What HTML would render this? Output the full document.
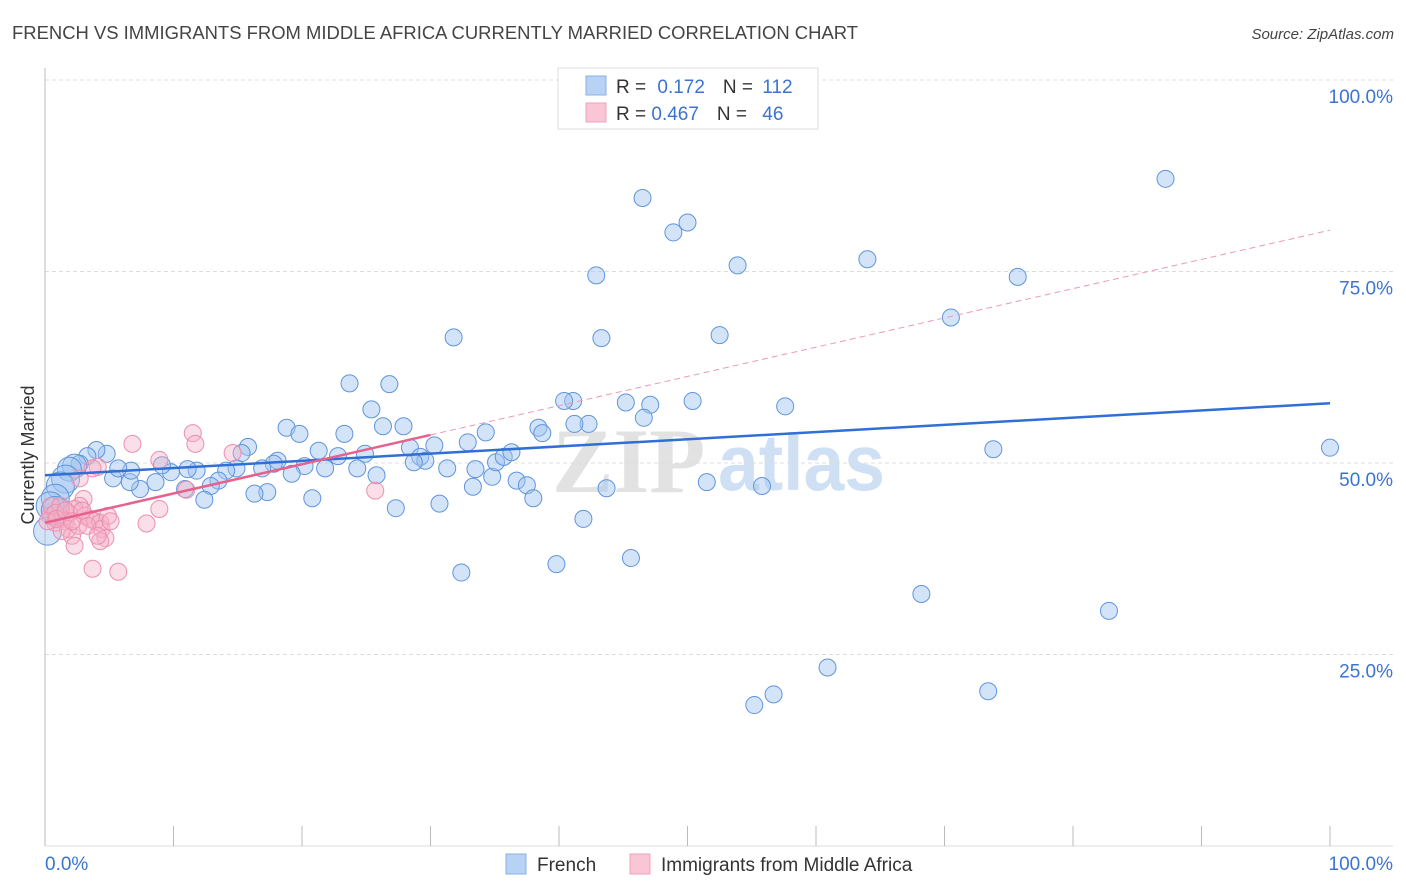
<!DOCTYPE html>
<html><head><meta charset="utf-8"><style>
body{margin:0;background:#fff;font-family:"Liberation Sans",sans-serif;}
#wrap{position:relative;width:1406px;height:892px;overflow:hidden;}
</style></head><body>
<div id="wrap">
<svg id="chart" width="1406" height="892" xmlns="http://www.w3.org/2000/svg">
<text x="12" y="39" font-size="18" fill="#444" textLength="846" lengthAdjust="spacingAndGlyphs">FRENCH VS IMMIGRANTS FROM MIDDLE AFRICA CURRENTLY MARRIED CORRELATION CHART</text>
<text x="1394" y="39" font-size="15" fill="#444" font-style="italic" text-anchor="end">Source: ZipAtlas.com</text>
<text transform="translate(34,455) rotate(-90)" font-size="18" fill="#333" text-anchor="middle">Currently Married</text>
<g><text x="552" y="492" font-size="92" fill="#e2e2e2" font-family="Liberation Serif,serif" font-weight="bold">ZIP</text><text x="718" y="490" font-size="80" fill="#cfe0f4" font-weight="bold" textLength="167" lengthAdjust="spacingAndGlyphs">atlas</text></g>
<g id="grid"></g><g id="axes"></g><g id="pts"></g><g id="lines"></g>
<g>
<rect x="558" y="68" width="260" height="61" fill="#fff" stroke="#ddd"/>
<rect x="586" y="76" width="20" height="19" fill="#b7d2f4" stroke="#8ab0e0"/>
<rect x="586" y="103" width="20" height="19" fill="#f9c6d6" stroke="#f0a0bb"/>
<text x="616" y="93" font-size="19" fill="#333">R = <tspan fill="#3b74d0" dx="6">0.172</tspan><tspan dx="18" fill="#333">N = </tspan><tspan fill="#3b74d0" dx="4">112</tspan></text>
<text x="616" y="120" font-size="19" fill="#333">R = <tspan fill="#3b74d0">0.467</tspan><tspan dx="18" fill="#333">N = </tspan><tspan fill="#3b74d0" dx="10">46</tspan></text>
</g>
<g>
<rect x="506" y="854" width="20" height="20" fill="#b7d2f4" stroke="#8ab0e0"/>
<text x="537" y="871" font-size="19" fill="#333">French</text>
<rect x="630" y="854" width="20" height="20" fill="#f9c6d6" stroke="#f0a0bb"/>
<text x="661" y="871" font-size="19" fill="#333">Immigrants from Middle Africa</text>
</g>
</svg>
</div>
<script>
const yTicks=[25,50,75,100];
const yTickLabels=["25.0%","50.0%","75.0%","100.0%"];
const xTickLabels=["0.0%","100.0%"];
const frenchX=[100,87.2,46.5,50.0,48.9,42.9,53.9,64.0,75.7,70.5,31.8,43.3,52.5,23.7,26.8,25.4,27.9,26.3,18.8,19.8,23.3,41.1,40.4,45.2,47.1,50.4,57.6,46.6,42.3,41.2,38.4,38.7,34.3,32.9,30.3,28.4,29.2,29.6,28.7,31.3,33.5,34.8,35.1,35.7,36.3,33.3,36.7,37.5,38.0,43.7,51.5,55.8,73.8,41.9,30.7,27.3,20.8,24.9,24.3,25.8,21.8,21.3,22.8,20.2,19.2,18.1,17.8,16.9,15.8,15.3,17.3,16.3,14.9,14.1,13.5,12.9,12.4,10.9,11.8,11.1,9.8,9.1,8.6,7.4,6.6,6.7,5.3,5.7,4.8,4.0,3.3,2.7,2.3,1.9,1.6,1.2,0.8,0.4,0.2,0.8,32.4,39.8,45.6,68.2,82.8,60.9,56.7,55.2,73.4];
const frenchY=[52.0,87.1,84.6,81.4,80.1,74.5,75.8,76.6,74.3,69.0,66.4,66.3,66.7,60.4,60.3,57.0,54.8,54.8,54.6,53.8,53.8,58.1,58.1,57.9,57.6,58.1,57.4,55.9,55.1,55.1,54.6,53.9,54.0,52.7,52.3,52.0,50.8,50.3,50.1,49.3,49.2,48.2,50.1,50.8,51.4,46.9,47.7,47.1,45.4,46.7,47.5,47.0,51.8,42.7,44.7,44.1,45.4,51.2,49.3,48.4,49.3,51.6,50.9,49.6,48.6,50.3,49.9,49.3,52.1,51.3,46.2,46.0,49.3,49.0,47.7,47.0,45.2,46.6,49.0,49.2,48.8,49.7,47.5,46.6,47.5,49.0,48.0,49.3,51.2,51.7,50.9,49.9,49.6,49.2,47.9,47.0,45.4,44.4,41.1,43.8,35.7,36.8,37.6,32.9,30.7,23.3,19.8,18.4,20.2];
const immX=[6.8,11.5,11.7,8.9,14.6,25.7,11.0,8.9,7.9,4.1,3.7,2.7,3.0,2.7,2.3,1.9,1.3,0.8,0.4,0.5,1.2,1.6,1.8,2.1,2.6,3.1,3.5,3.9,4.3,4.4,4.7,4.3,4.9,2.3,3.7,5.7,0.8,1.3,0.2,3.3,0.9,1.6,2.1,2.9,4.1,5.1];
const immY=[52.5,53.9,52.5,50.4,51.3,46.4,46.5,44.0,42.1,49.5,49.3,48.0,45.3,44.4,44.0,43.4,42.7,42.2,43.1,44.4,44.4,42.4,41.4,40.5,41.8,43.1,42.7,42.4,42.2,41.4,40.2,39.8,43.1,39.2,36.2,35.8,43.5,41.1,42.4,41.8,42.7,43.8,42.4,43.8,40.5,42.4];
const frenchTrend=[48.4,57.8];
const immTrend=[42.2,80.4];
const immSolidEnd=30;

const NS="http://www.w3.org/2000/svg";
const X0=45,X1=1330,Y0=846,Y100=80;
const sx=v=>X0+(X1-X0)*v/100;
const sy=v=>Y0-(Y0-Y100)*v/100;
function mk(tag,attrs,parent){const e=document.createElementNS(NS,tag);for(const k in attrs)e.setAttribute(k,attrs[k]);parent.appendChild(e);return e;}
const grid=document.getElementById('grid'),axes=document.getElementById('axes'),pts=document.getElementById('pts'),lines=document.getElementById('lines');
yTicks.forEach((t,i)=>{
 const g=mk('line',{x1:X0,x2:1393,y1:sy(t),y2:sy(t),stroke:'#ddd','stroke-dasharray':'4,3'},grid);
 
 
 const tx=mk('text',{x:1393,y:sy(t)+23,'font-size':19,fill:'#3b74d0','text-anchor':'end'},axes);
 tx.textContent=yTickLabels[i];
 
 
});
const la=mk('line',{x1:X0,x2:X0,y1:68,y2:Y0,stroke:'#bbb'},axes);


const ba=mk('line',{x1:X0,x2:1393,y1:Y0,y2:Y0,stroke:'#ddd'},axes);


for(let i=0;i<=10;i++){
 const tk=mk('line',{x1:sx(i*10),x2:sx(i*10),y1:826,y2:Y0,stroke:'#bbb'},axes);
 
 
}
const xl0=mk('text',{x:45,y:870,'font-size':19,fill:'#3b74d0'},axes);xl0.textContent=xTickLabels[0];


const xl1=mk('text',{x:1393,y:870,'font-size':19,fill:'#3b74d0','text-anchor':'end'},axes);xl1.textContent=xTickLabels[1];


frenchX.forEach((x,i)=>{
 const r=x<1.7?14:(x<2.5?12:8.5);
 const c=mk('circle',{cx:sx(x),cy:sy(frenchY[i]),r:r,fill:'rgba(160,196,240,0.45)',stroke:'#5f95dc','stroke-width':1},pts);
 
 
});
immX.forEach((x,i)=>{
 const c=mk('circle',{cx:sx(x),cy:sy(immY[i]),r:8.5,fill:'rgba(246,176,198,0.4)',stroke:'#ec8fae','stroke-width':1},pts);
 
 
});
const fl=mk('line',{x1:sx(0),y1:sy(frenchTrend[0]),x2:sx(100),y2:sy(frenchTrend[1]),stroke:'#2f6fd6','stroke-width':2.5},lines);


const iy=v=>immTrend[0]+(immTrend[1]-immTrend[0])*v/100;
const il=mk('line',{x1:sx(0),y1:sy(iy(0)),x2:sx(immSolidEnd),y2:sy(iy(immSolidEnd)),stroke:'#e8608c','stroke-width':2.5},lines);


const id=mk('line',{x1:sx(immSolidEnd),y1:sy(iy(immSolidEnd)),x2:sx(100),y2:sy(iy(100)),stroke:'#eb9ab5','stroke-width':1,'stroke-dasharray':'6,4'},lines);


</script>
</body></html>
